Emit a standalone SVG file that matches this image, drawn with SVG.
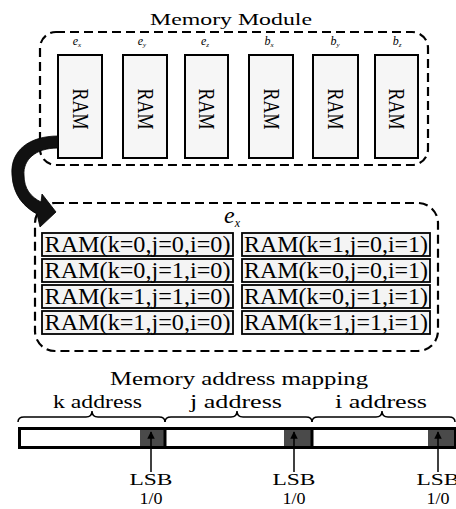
<svg xmlns="http://www.w3.org/2000/svg" width="456" height="509" viewBox="0 0 456 509">
<defs>
<style>
.t{font-family:"Liberation Serif","Times New Roman",serif;fill:#000}
.dash{fill:none;stroke:#000;stroke-width:2.2;stroke-dasharray:9 5}
.ram{fill:#f6f6f6;stroke:#000;stroke-width:2}
.cell{fill:#f4f4f4;stroke:#000;stroke-width:1.8}
.it{font-family:"Liberation Serif","Times New Roman",serif;font-style:italic;fill:#000}
.brace{fill:none;stroke:#000;stroke-width:1.5}
.lsb{fill:#4a4a4a;stroke:none}
</style>
<marker id="ah" viewBox="0 0 10 10" refX="9" refY="5" markerWidth="5" markerHeight="5" orient="auto">
<path d="M0,0 L10,5 L0,10 Z" fill="#000"/>
</marker>
</defs>
<rect width="456" height="509" fill="#fff"/>

<g id="memory-module">
<text class="t" x="231" y="25" font-size="17" text-anchor="middle" textLength="162" lengthAdjust="spacingAndGlyphs">Memory Module</text>
<rect class="dash" x="40" y="32" width="388" height="133" rx="16"/>
</g>

<g id="ram-ex">
<text class="it" x="77" y="45" font-size="12" text-anchor="middle">e<tspan font-size="7" dy="2">x</tspan></text>
<rect class="ram" x="58" y="55" width="44" height="103"/>
<text class="t" font-size="18" text-anchor="middle" transform="translate(72.5,109) rotate(90) scale(1,1.25)">RAM</text>
</g>
<g id="ram-ey">
<text class="it" x="142" y="45" font-size="12" text-anchor="middle">e<tspan font-size="7" dy="2">y</tspan></text>
<rect class="ram" x="123" y="55" width="44" height="103"/>
<text class="t" font-size="18" text-anchor="middle" transform="translate(137.5,109) rotate(90) scale(1,1.25)">RAM</text>
</g>
<g id="ram-ez">
<text class="it" x="205" y="45" font-size="12" text-anchor="middle">e<tspan font-size="7" dy="2">z</tspan></text>
<rect class="ram" x="185" y="55" width="43" height="103"/>
<text class="t" font-size="18" text-anchor="middle" transform="translate(199,109) rotate(90) scale(1,1.25)">RAM</text>
</g>
<g id="ram-bx">
<text class="it" x="269" y="45" font-size="12" text-anchor="middle">b<tspan font-size="7" dy="2">x</tspan></text>
<rect class="ram" x="249" y="55" width="44" height="103"/>
<text class="t" font-size="18" text-anchor="middle" transform="translate(263.5,109) rotate(90) scale(1,1.25)">RAM</text>
</g>
<g id="ram-by">
<text class="it" x="335" y="45" font-size="12" text-anchor="middle">b<tspan font-size="7" dy="2">y</tspan></text>
<rect class="ram" x="313" y="55" width="45" height="103"/>
<text class="t" font-size="18" text-anchor="middle" transform="translate(328,109) rotate(90) scale(1,1.25)">RAM</text>
</g>
<g id="ram-bz">
<text class="it" x="397" y="45" font-size="12" text-anchor="middle">b<tspan font-size="7" dy="2">z</tspan></text>
<rect class="ram" x="375" y="55" width="43" height="103"/>
<text class="t" font-size="18" text-anchor="middle" transform="translate(389,109) rotate(90) scale(1,1.25)">RAM</text>
</g>

<g id="ex-detail">
<rect class="dash" x="35" y="203" width="403" height="148" rx="20"/>
<text class="it" x="232" y="223" font-size="24" text-anchor="middle">e<tspan font-size="12" dy="4">x</tspan></text>
<rect class="cell" x="42" y="233" width="191" height="23"/>
<rect class="cell" x="42" y="259" width="191" height="23"/>
<rect class="cell" x="42" y="285" width="191" height="23"/>
<rect class="cell" x="42" y="311" width="191" height="23"/>
<rect class="cell" x="242" y="233" width="188" height="23"/>
<rect class="cell" x="242" y="259" width="188" height="23"/>
<rect class="cell" x="242" y="285" width="188" height="23"/>
<rect class="cell" x="242" y="311" width="188" height="23"/>
<text class="t" font-size="24" x="137.5" y="252" text-anchor="middle" textLength="186" lengthAdjust="spacingAndGlyphs">RAM(k=0,j=0,i=0)</text>
<text class="t" font-size="24" x="137.5" y="278" text-anchor="middle" textLength="186" lengthAdjust="spacingAndGlyphs">RAM(k=0,j=1,i=0)</text>
<text class="t" font-size="24" x="137.5" y="304" text-anchor="middle" textLength="186" lengthAdjust="spacingAndGlyphs">RAM(k=1,j=1,i=0)</text>
<text class="t" font-size="24" x="137.5" y="330" text-anchor="middle" textLength="186" lengthAdjust="spacingAndGlyphs">RAM(k=1,j=0,i=0)</text>
<text class="t" font-size="24" x="336" y="252" text-anchor="middle" textLength="184" lengthAdjust="spacingAndGlyphs">RAM(k=1,j=0,i=1)</text>
<text class="t" font-size="24" x="336" y="278" text-anchor="middle" textLength="184" lengthAdjust="spacingAndGlyphs">RAM(k=0,j=0,i=1)</text>
<text class="t" font-size="24" x="336" y="304" text-anchor="middle" textLength="184" lengthAdjust="spacingAndGlyphs">RAM(k=0,j=1,i=1)</text>
<text class="t" font-size="24" x="336" y="330" text-anchor="middle" textLength="184" lengthAdjust="spacingAndGlyphs">RAM(k=1,j=1,i=1)</text>
</g>

<g id="address-mapping">
<text class="t" x="239" y="385" font-size="18" text-anchor="middle" textLength="258" lengthAdjust="spacingAndGlyphs">Memory address mapping</text>
<text class="t" x="97.5" y="408" font-size="19" text-anchor="middle" textLength="89" lengthAdjust="spacingAndGlyphs">k address</text>
<text class="t" x="236" y="408" font-size="19" text-anchor="middle" textLength="92" lengthAdjust="spacingAndGlyphs">j address</text>
<text class="t" x="381" y="408" font-size="19" text-anchor="middle" textLength="92" lengthAdjust="spacingAndGlyphs">i address</text>
<path class="brace" d="M18,422 Q18,417 24,417 L86,417 Q92,417 92,411 Q92,417 98,417 L159,417 Q165,417 165,422"/>
<path class="brace" d="M165,422 Q165,417 171,417 L231,417 Q237,417 237,411 Q237,417 243,417 L306,417 Q312,417 312,422"/>
<path class="brace" d="M312,422 Q312,417 318,417 L376,417 Q382,417 382,411 Q382,417 388,417 L449,417 Q455,417 455,422"/>
<rect x="19.5" y="428.5" width="435" height="19" fill="#fff" stroke="#000" stroke-width="3"/>
<rect class="lsb" x="140" y="430" width="25" height="16"/>
<rect class="lsb" x="284" y="430" width="27" height="16"/>
<rect class="lsb" x="428" y="430" width="26" height="16"/>
<line x1="165" y1="428" x2="165" y2="448" stroke="#000" stroke-width="3"/>
<line x1="312" y1="428" x2="312" y2="448" stroke="#000" stroke-width="3"/>
<text class="t" x="151" y="485" font-size="17" text-anchor="middle" textLength="43" lengthAdjust="spacingAndGlyphs">LSB</text>
<text class="t" x="151" y="504" font-size="17" text-anchor="middle" textLength="23" lengthAdjust="spacingAndGlyphs">1/0</text>
<text class="t" x="294" y="485" font-size="17" text-anchor="middle" textLength="43" lengthAdjust="spacingAndGlyphs">LSB</text>
<text class="t" x="294" y="504" font-size="17" text-anchor="middle" textLength="23" lengthAdjust="spacingAndGlyphs">1/0</text>
<text class="t" x="438" y="485" font-size="17" text-anchor="middle" textLength="43" lengthAdjust="spacingAndGlyphs">LSB</text>
<text class="t" x="438" y="504" font-size="17" text-anchor="middle" textLength="23" lengthAdjust="spacingAndGlyphs">1/0</text>
</g>

<g id="connectors">
<path d="M58,136 C30,136 10,150 12,175 C13,195 24,207 37,214 L40,227 L56,212 L42,194 L41,202 C31,197 24,189 24,175 C23,160 35,148 58,148 Z" fill="#111" stroke="#000" stroke-width="0.8"/>
<line x1="151" y1="472" x2="151" y2="432" stroke="#000" stroke-width="1.5" marker-end="url(#ah)"/>
<line x1="294" y1="472" x2="294" y2="432" stroke="#000" stroke-width="1.5" marker-end="url(#ah)"/>
<line x1="438" y1="472" x2="438" y2="432" stroke="#000" stroke-width="1.5" marker-end="url(#ah)"/>
</g>
</svg>
